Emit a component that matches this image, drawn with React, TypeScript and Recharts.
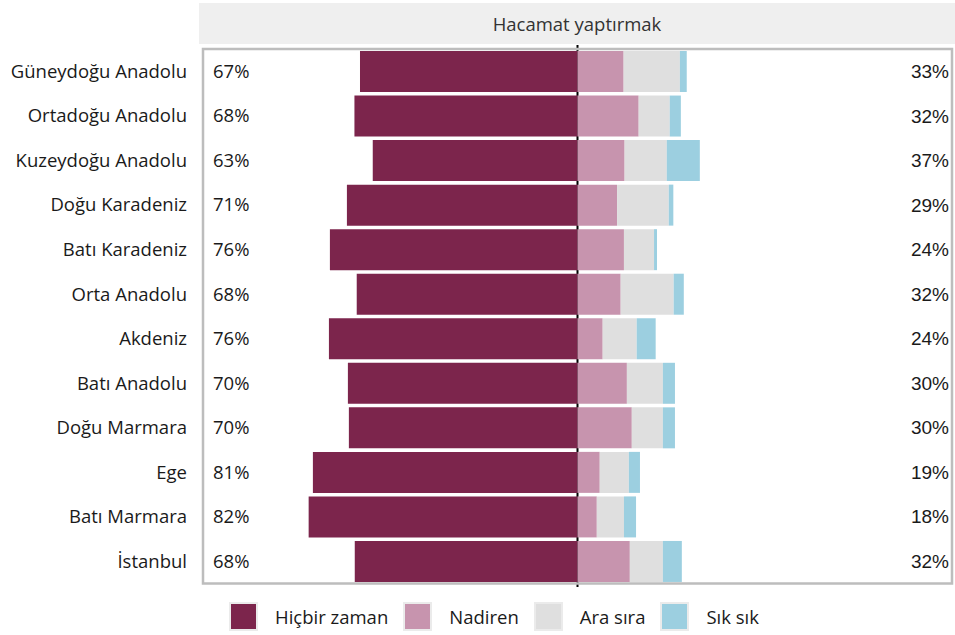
import { Bar, BarChart, CartesianGrid, Legend, ReferenceArea, XAxis, YAxis } from "recharts";

const regions = [
  "Güneydoğu Anadolu",
  "Ortadoğu Anadolu",
  "Kuzeydoğu Anadolu",
  "Doğu Karadeniz",
  "Batı Karadeniz",
  "Orta Anadolu",
  "Akdeniz",
  "Batı Anadolu",
  "Doğu Marmara",
  "Ege",
  "Batı Marmara",
  "İstanbul"
];

const hicbirZaman = [66.5, 68.2, 62.6, 70.5, 75.7, 67.5, 76.0, 70.2, 69.9, 80.9, 82.2, 68.1];
const nadiren = [14.1, 18.7, 14.4, 12.1, 14.2, 13.2, 7.7, 15.1, 16.6, 6.8, 5.9, 16.0];
const araSira = [17.2, 9.5, 12.9, 15.8, 9.2, 16.2, 10.4, 11.0, 9.5, 8.9, 8.3, 10.1];
const sikSik = [2.1, 3.4, 10.1, 1.4, 0.9, 3.1, 5.8, 3.7, 3.7, 3.4, 3.7, 5.8];

const leftLabels = ["67%", "68%", "63%", "71%", "76%", "68%", "76%", "70%", "70%", "81%", "82%", "68%"];
const rightLabels = ["33%", "32%", "37%", "29%", "24%", "32%", "24%", "30%", "30%", "19%", "18%", "32%"];

const series = [
  { key: "hicbir", name: "Hiçbir zaman", color: "#7c254c" },
  { key: "nadiren", name: "Nadiren", color: "#c794ae" },
  { key: "araSira", name: "Ara sıra", color: "#dfdfdf" },
  { key: "sikSik", name: "Sık sık", color: "#9ccfe0" }
];

const data = regions.map((region, i) => ({
  region,
  hicbir: -hicbirZaman[i],
  nadiren: nadiren[i],
  araSira: araSira[i],
  sikSik: sikSik[i]
}));

const FONT = "'Open Sans', 'Noto Sans', sans-serif";
const LIMIT = 114.5;
const axisPadding = { top: 4, bottom: 3.5 };

function LegendContent(props: any): JSX.Element {
  const payload = [...(props.payload ?? [])].sort(
    (a: any, b: any) => series.findIndex(s => s.name === a.value) - series.findIndex(s => s.name === b.value)
  );
  return (
    <div style={{ height: 48, display: "flex", alignItems: "flex-start", paddingLeft: 229, paddingTop: 15, boxSizing: "border-box" }}>
      {payload.map((item: any) => (
        <div key={item.value} style={{ display: "flex", alignItems: "center", marginRight: 15 }}>
          <div
            style={{
              width: 25,
              height: 25,
              background: item.color,
              border: "2px solid #ebebeb"
            }}
          />
          <span style={{ marginLeft: 17, fontFamily: FONT, fontSize: 18.5, color: "#1a1a1a" }}>{item.value}</span>
        </div>
      ))}
    </div>
  );
}

export default function App(): JSX.Element {
  return (
    <div style={{ position: "relative", width: 955, height: 635, background: "#fff" }}>
      <style>{"body{margin:0}"}</style>
      <div
        style={{
          position: "absolute",
          left: 199,
          top: 3,
          width: 756,
          height: 41,
          background: "#efefef",
          fontFamily: FONT,
          fontSize: 18.5,
          color: "#333",
          display: "flex",
          alignItems: "center",
          justifyContent: "center"
        }}
      >
        Hacamat yaptırmak
      </div>
      <BarChart
        width={955}
        height={635}
        data={data}
        layout="vertical"
        stackOffset="sign"
        margin={{ top: 45, right: 3, bottom: 0, left: 0 }}
      >
        <CartesianGrid horizontal={false} verticalValues={[0]} stroke="#000" strokeWidth={2} />
        <XAxis type="number" domain={[-LIMIT, LIMIT]} allowDataOverflow hide />
        <YAxis
          type="category"
          dataKey="region"
          width={203}
          axisLine={false}
          tickLine={false}
          tickSize={0}
          tickMargin={16}
          interval={0}
          padding={axisPadding}
          tick={{ fill: "#1a1a1a", fontSize: 18.5, fontFamily: FONT }}
        />
        <YAxis
          yAxisId="lp"
          type="category"
          dataKey="region"
          orientation="left"
          mirror
          axisLine={false}
          tickLine={false}
          tickSize={0}
          tickMargin={10}
          interval={0}
          padding={axisPadding}
          tickFormatter={(_v: string, i: number) => leftLabels[i]}
          tick={{ fill: "#1a1a1a", fontSize: 18.5, fontFamily: FONT }}
        />
        <YAxis
          yAxisId="rp"
          type="category"
          dataKey="region"
          orientation="right"
          mirror
          axisLine={false}
          tickLine={false}
          tickSize={0}
          tickMargin={3}
          interval={0}
          padding={axisPadding}
          tickFormatter={(_v: string, i: number) => rightLabels[i]}
          tick={{ fill: "#1a1a1a", fontSize: 19, fontFamily: "'Liberation Sans', Arial, sans-serif" }}
        />
        {series.map(s => (
          <Bar key={s.key} dataKey={s.key} name={s.name} stackId="a" fill={s.color} barSize={41} isAnimationActive={false} />
        ))}
        <ReferenceArea x1={-LIMIT} x2={LIMIT} fill="none" stroke="#bdbdbd" strokeWidth={2.5} />
        <Legend verticalAlign="bottom" content={<LegendContent />} />
      </BarChart>
    </div>
  );
}
